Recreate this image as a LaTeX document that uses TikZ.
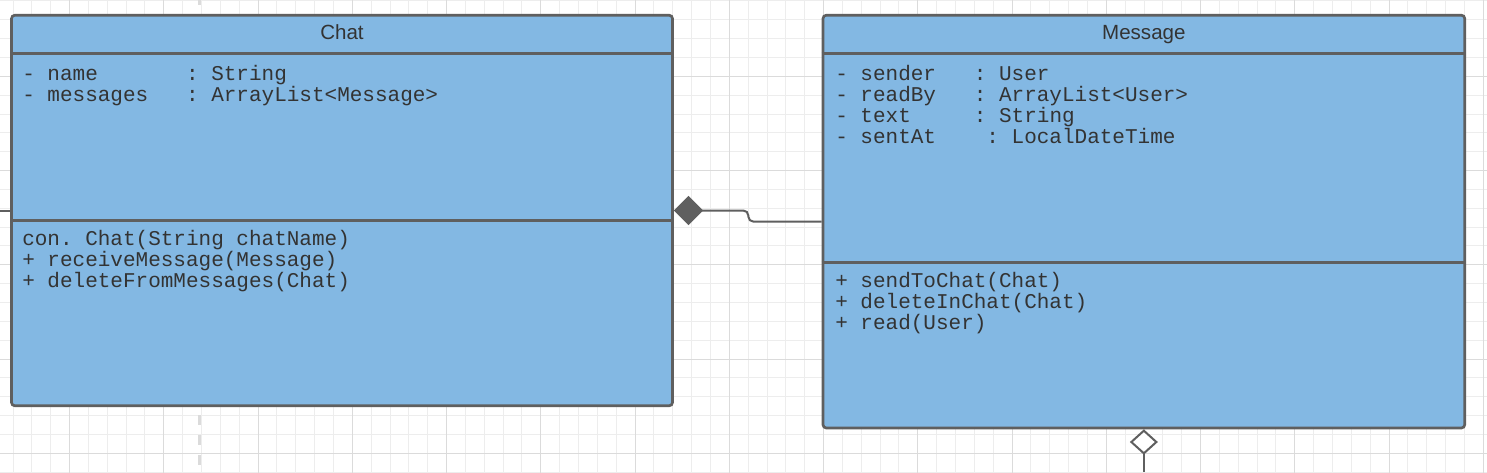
\documentclass[tikz,border=0pt]{standalone}
\usepackage{fontspec}
\setmainfont{Liberation Sans}
\newfontfamily\umlmono{Liberation Mono}
\usetikzlibrary{arrows.meta}
\definecolor{umlblue}{HTML}{83B8E3}
\definecolor{umledge}{HTML}{5F5F5F}
\definecolor{umltext}{HTML}{333333}
\begin{document}
\begin{tikzpicture}[x=0.75pt,y=-0.75pt,
  classbox/.style={draw=umledge,fill=umlblue,line width=2pt,rounded corners=2.5pt,inner sep=0pt},
  classline/.style={draw=umledge,line width=2pt},
  head/.style={anchor=base,inner sep=0pt,text=umltext,font=\fontsize{15.4}{18}\selectfont},
  member/.style={anchor=base west,inner sep=0pt,text=umltext,font=\umlmono\fontsize{15.75}{15.75}\selectfont\frenchspacing},
  assoc/.style={draw=umledge,line width=1.5pt}]
  \fill[white] (0,0) rectangle (1487,472);
  \useasboundingbox (0,0) rectangle (1487,472);
  \begin{scope}[shift={(729.3,453.3)},x=1pt,y=1pt]
    \draw[step=14.1375pt,gray!14,line width=0.75pt] (-560,-20) grid (580,350);
    \draw[step=70.6875pt,gray!28,line width=0.75pt] (-560,-20) grid (580,350);
  \end{scope}
  \coordinate (dtop) at (199,0);
  \coordinate (dbot) at (199,472);
  \draw[gray!28,line width=2.25pt,dash pattern=on 7.5pt off 7.5pt,dash phase=3.75pt] (dtop) -- (dbot);
  \coordinate (chatin) at (0,210.5);
  \draw[assoc] (chatin) -- (342,210.5);

  \node[classbox,minimum width=495.75pt,minimum height=292.9pt] (chat) at (342,210.5) {};
  \node[classbox,minimum width=481.3pt,minimum height=309.6pt] (message) at (1143.85,221.6) {};
  \draw[classline] (chat.west |- 0,53.7) -- (chat.east |- 0,53.7);
  \draw[classline] (chat.west |- 0,220.7) -- (chat.east |- 0,220.7);
  \draw[classline] (message.west |- 0,53.7) -- (message.east |- 0,53.7);
  \draw[classline] (message.west |- 0,262.5) -- (message.east |- 0,262.5);

  \node[head] (chattitle) at (chat.center |- 0,39.5) {Chat};
  \node[member] (chatname) at (22,80) {- name\ \ \ \ \ \ \ : String};
  \node[member] (chatmessages) at (22,101) {- messages\ \ \ : ArrayList<Message>};
  \node[member] (chatcon) at (22,245) {con. Chat(String chatName)};
  \node[member] (chatreceive) at (22,266) {+ receiveMessage(Message)};
  \node[member] (chatdelete) at (22,287) {+ deleteFromMessages(Chat)};

  \node[head] (messagetitle) at (message.center |- 0,39.5) {Message};
  \node[member] (msgsender) at (835,80) {- sender\ \ \ : User};
  \node[member] (msgreadby) at (835,101) {- readBy\ \ \ : ArrayList<User>};
  \node[member] (msgtext) at (835,122) {- text\ \ \ \ \ : String};
  \node[member] (msgsentat) at (835,143) {- sentAt\ \ \ \ : LocalDateTime};
  \node[member] (msgsend) at (835,287) {+ sendToChat(Chat)};
  \node[member] (msgdelete) at (835,308) {+ deleteInChat(Chat)};
  \node[member] (msgread) at (835,329) {+ read(User)};

  \draw[assoc,rounded corners=3.75pt,{Diamond[length=22pt,width=22pt]}-] (chat.east) -- ++(74.5,0) |- (message.west);
  \coordinate (msgout) at (1143.85,472);
  \draw[assoc,{Diamond[length=19pt,width=21pt,fill=white]}-] (message.south) -- (msgout);
\end{tikzpicture}
\end{document}
